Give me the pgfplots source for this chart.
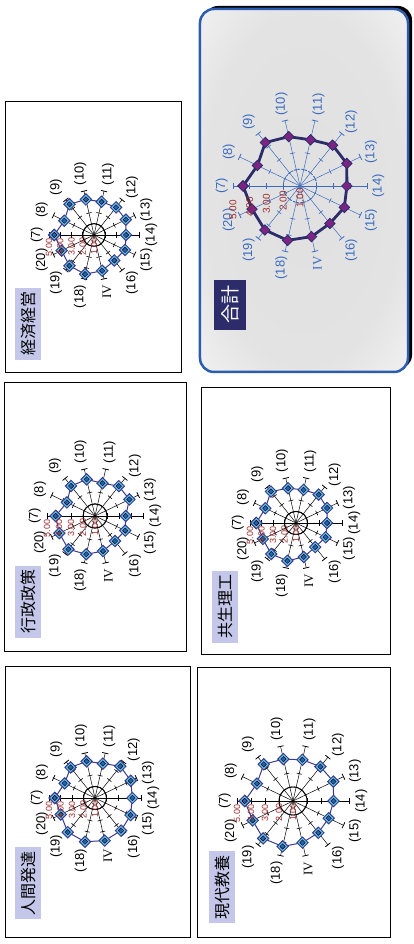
\documentclass[border=0pt]{standalone}
\usepackage{fontspec}
\setmainfont{Liberation Sans}
\newfontfamily\jp{Noto Sans CJK JP}
\newfontfamily\ser{Liberation Serif}
\usepackage{pgfplots}
\usepackage{pgfplotstable}
\pgfplotsset{compat=1.18}

\definecolor{lav}{HTML}{C4C7E9}
\definecolor{navy}{HTML}{2D2C6B}
\definecolor{valred}{HTML}{9E2B2B}
\definecolor{cyanm}{HTML}{5EC6EA}
\definecolor{bluem}{HTML}{2C5FB4}
\definecolor{linec}{HTML}{3B3A8C}
\definecolor{totblue}{HTML}{3A6BC0}
\definecolor{border}{HTML}{2B5CAE}
\definecolor{purp}{HTML}{7C2484}

\pgfdeclareradialshading{panelshade}{\pgfpoint{0bp}{0bp}}{%
  color(0bp)=(black!12); color(24bp)=(black!11); color(37bp)=(black!5);
  color(46bp)=(white); color(50bp)=(white)}

% angle of each spoke, then the score of each faculty (scale 1-5)
\pgfplotstableread{
ang      keizai gyosei ningen kyosei gendai gokei
90       4.53   4.28   4.50   4.45   4.45   4.40
64.286   3.93   3.60   3.93   3.96   3.86   3.82
38.571   4.49   4.20   4.40   4.50   4.35   4.32
12.857   4.24   4.13   4.27   4.10   4.07   4.02
-12.857  4.03   3.80   4.07   3.96   4.02   3.83
-38.571  4.14   4.18   4.53   4.16   4.14   4.12
-64.286  4.14   4.18   4.45   4.00   4.20   4.10
-90      3.85   3.56   4.25   3.70   3.90   3.80
-115.714 4.06   3.80   4.43   3.86   3.83   3.94
-141.429 3.90   3.67   4.63   3.68   3.90   3.86
-167.143 4.26   4.00   4.80   4.03   4.05   4.10
-192.857 4.57   4.27   4.90   4.37   4.33   4.33
-218.571 4.50   4.55   4.80   4.45   4.42   4.36
-244.286 4.20   4.30   4.30   4.20   4.20   4.18
-270     4.53   4.28   4.50   4.45   4.45   4.40
}\scores

% spokes, ticks and the inner circle
\newcommand{\radargrid}[5]{%
  \begin{scope}[shift={(#1,#2)}]
    \foreach \kk in {0,...,13}{%
      \pgfmathsetmacro\ang{90-\kk*360/14}%
      \draw[#4, line width=0.5, rotate=\ang] (0,0) -- (#3,0);
      \foreach \ff in {0.25,0.5,0.75}{%
        \draw[#4, line width=0.6, rotate=\ang] (\ff*#3,-2.6) -- (\ff*#3,2.6);}
      \draw[#4, line width=0.8, rotate=\ang] (#3,-3.2) -- (#3,3.2);
    }
    \draw[#4, #5] (0,0) circle [radius=#3/4];
  \end{scope}}

\newcommand{\radarlabels}[6]{%
  \begin{scope}[shift={(#1,#2)}]
    \foreach \kk/\tx in {0/{(7)},1/{(8)},2/{(9)},3/{(10)},4/{(11)},5/{(12)},6/{(13)},
        7/{(14)},8/{(15)},9/{(16)},10/{{\ser IV}},11/{(18)},12/{(19)},13/{(20)}}{%
      \pgfmathsetmacro\ang{90-\kk*360/14}%
      \pgfmathsetmacro\anc{mod(\ang+540,360)}%
      \node[text=#4, anchor=\anc, inner sep=0pt, font=#6] at (\ang:#3+#5) {\tx};
    }
  \end{scope}}

\newcommand{\radarvalues}[6]{%
  \foreach \rr/\tx in {0/1.00,1/2.00,2/3.00,3/4.00,4/5.00}{%
    \node[anchor=east, text=#6, inner sep=0pt, font=#4]
      at ({#1-2-#5*\rr}, {#2+\rr*#3/4}) {\tx};
  }}

\newcommand{\smallpanel}[4]{%
  \radargrid{#1}{#2}{#3}{black}{line width=0.9}
  \radarlabels{#1}{#2}{#3}{black}{6}{\fontsize{13}{14}\selectfont}
  \pgfmathsetmacro\unitlen{#3/4}
  \begin{axis}[at={(#1pt,#2pt)}, anchor=center, x=\unitlen pt, y=\unitlen pt,
      hide axis, clip=false, xmin=-5, xmax=5, ymin=-5, ymax=5]
    \addplot[linec, line width=1, data cs=polar, mark=square*, mark size=4,
      mark options={rotate=45, fill=cyanm, draw=none}]
      table[x=ang, y expr=\thisrow{#4}-1] {\scores};
    \addplot[only marks, data cs=polar, mark=square*, mark size=1.9,
      mark options={rotate=45, fill=bluem, draw=none}]
      table[x=ang, y expr=\thisrow{#4}-1] {\scores};
  \end{axis}
  \radarvalues{#1}{#2}{#3}{\fontsize{9}{10}\selectfont}{0.4}{valred}}

\begin{document}
\rotatebox{90}{%
\begin{tikzpicture}[x=1pt,y=1pt]
  \path[use as bounding box] (0,0) rectangle (944,414);

  \draw[line width=1] (7,223) rectangle (277,408);
  \draw[line width=1] (292,227) rectangle (561,409);
  \draw[line width=1] (571,232) rectangle (842,408);
  \draw[line width=1] (7,24) rectangle (276,216);
  \draw[line width=1] (289,24) rectangle (556,212);

  \fill[black, rounded corners=14pt] (575,2) rectangle (938,210);
  \shade[shading=panelshade, rounded corners=14pt] (572,6) rectangle (935,214);
  \draw[border, line width=2.5, rounded corners=14pt] (572,6) rectangle (935,214);

  \tikzset{ttl/.style={fill=lav, minimum width=72pt, minimum height=26pt, inner sep=0pt,
      font=\jp\fontsize{16}{17}\selectfont}}
  \node[ttl] at (61,386) {人間発達};
  \node[ttl] at (342,386) {行政政策};
  \node[ttl] at (620,386) {経済経営};
  \node[ttl] at (57,192) {現代教養};
  \node[ttl] at (337,189) {共生理工};
  \node[fill=navy, text=white, minimum width=50pt, minimum height=32pt, inner sep=0pt,
      font=\jp\fontsize{19}{20}\selectfont] at (639,184) {合計};

  \smallpanel{146}{319}{46}{ningen}
  \smallpanel{428}{319}{48}{gyosei}
  \smallpanel{709}{320}{45}{keizai}
  \smallpanel{143}{121}{56}{gendai}
  \smallpanel{421}{118}{46}{kyosei}

  % total
  \radargrid{758}{114}{67}{totblue}{dash pattern=on 2pt off 1.5pt, line width=0.8}
  \radarlabels{758}{114}{67}{totblue}{5}{\fontsize{13}{14}\selectfont}
  \begin{axis}[at={(758pt,114pt)}, anchor=center, x=16.75pt, y=16.75pt,
      hide axis, clip=false, xmin=-5, xmax=5, ymin=-5, ymax=5]
    \addplot[navy, line width=2.8, data cs=polar, mark=square*, mark size=3.7,
      mark options={rotate=45, fill=purp, draw=navy, line width=0.8, solid}]
      table[x=ang, y expr=\thisrow{gokei}-1] {\scores};
  \end{axis}
  \radarvalues{758}{114}{67}{\fontsize{10}{11}\selectfont}{3}{valred}
\end{tikzpicture}}
\end{document}
